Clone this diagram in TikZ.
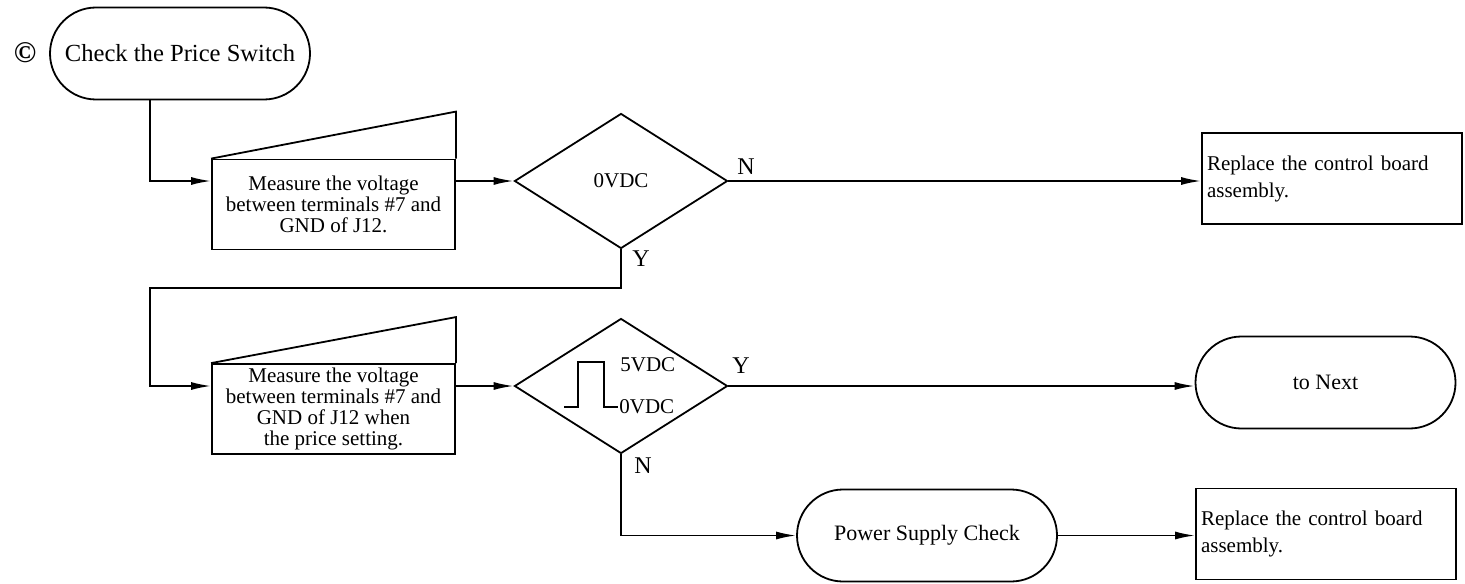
\documentclass[tikz,border=0pt]{standalone}
\usepackage{fontspec}
\setmainfont{Liberation Serif}
\usetikzlibrary{shapes.geometric,arrows.meta}
\tikzset{
  termbox/.style={draw, line width=0.9pt, rounded corners=23pt, minimum width=130pt,
                  minimum height=46pt, font=\fontsize{11}{12}\selectfont},
  inbox/.style={draw, line width=0.9pt, minimum width=121.5pt, minimum height=45pt,
                align=center, inner sep=1pt, font=\fontsize{10.5}{10.5}\selectfont},
  decbox/.style={draw, diamond, line width=0.9pt, minimum width=106.5pt, minimum height=67.5pt,
                 inner sep=0pt, font=\fontsize{10.5}{11}\selectfont},
  actbox/.style={draw, line width=0.9pt, minimum width=130pt, minimum height=45.5pt,
                 text width=125pt, align=left, inner xsep=2.5pt, font=\fontsize{10.5}{13.5}\selectfont},
  flowarr/.style={line width=0.9pt, -{Latex[length=10pt,width=4pt]}},
  flowline/.style={line width=0.9pt},
  yn/.style={font=\fontsize{12}{12}\selectfont, inner sep=0pt},
  volt/.style={anchor=west, inner sep=0pt, font=\fontsize{10.5}{11}\selectfont},
}

\begin{document}
\begin{tikzpicture}[x=0.5pt, y=-0.5pt]
    \useasboundingbox (0,0) rectangle (1465,583);
    % first row
    \node[font=\fontsize{15}{15}\selectfont\bfseries, inner sep=0pt] (mark) at (25,53) {\textcopyright};
    \node[termbox, font=\fontsize{12.3}{13}\selectfont] (start) at (180,53.5) {Check the Price Switch};
    \node[inbox] (m1) at (333.5,204.5) {Measure the voltage\\between terminals \#7 and\\GND of J12.};
    \draw[flowline] (m1.north west) -- ([yshift=23.5pt]m1.north east) -- (m1.north east);
    \node[decbox] (d1) at (621,181) {0VDC};
    \node[actbox] (r1) at (1332,178.5) {Replace the control board\\assembly.};
    % second row
    \node[inbox] (m2) at (333.5,409) {Measure the voltage\\between terminals \#7 and\\GND of J12 when\\the price setting.};
    \draw[flowline] (m2.north west) -- ([yshift=23pt]m2.north east) -- (m2.north east);
    \node[decbox] (d2) at (621,386) {};
    \draw[flowline] (564,407) -- (578,407) -- (578,362) -- (604,362) -- (604,407) -- (618,407);
    \node[volt] (hi) at (620,365) {5VDC};
    \node[volt] (lo) at (619,407) {0VDC};
    \node[termbox] (next) at (1325.5,382.5) {to Next};
    % third row
    \node[termbox] (psc) at (927,535.5) {Power Supply Check};
    \node[actbox] (r2) at (1326,534) {Replace the control board\\assembly.};
    % connectors
    \coordinate (bendA) at (150,181);
    \coordinate (bendB) at (150,288);
    \draw[flowarr] (start.south -| bendA) -- (bendA) -- (bendA -| m1.west);
    \draw[flowarr] (m1.east |- d1.west) -- (d1.west);
    \draw[flowarr] (d1.east) -- (d1.east -| r1.west);
    \draw[flowarr] (d1.south) |- (bendB) |- (m2.west |- d2.west);
    \draw[flowarr] (m2.east |- d2.west) -- (d2.west);
    \draw[flowarr] (d2.east) -- (d2.east -| next.west);
    \draw[flowarr] (d2.south) |- (psc.west);
    \draw[flowarr] (psc.east) -- (psc.east -| r2.west);
    % branch labels
    \node[yn] (n1) at (746,167) {N};
    \node[yn] (y1) at (641,259) {Y};
    \node[yn] (y2) at (741,366) {Y};
    \node[yn] (n2) at (643,466) {N};
\end{tikzpicture}
\end{document}
